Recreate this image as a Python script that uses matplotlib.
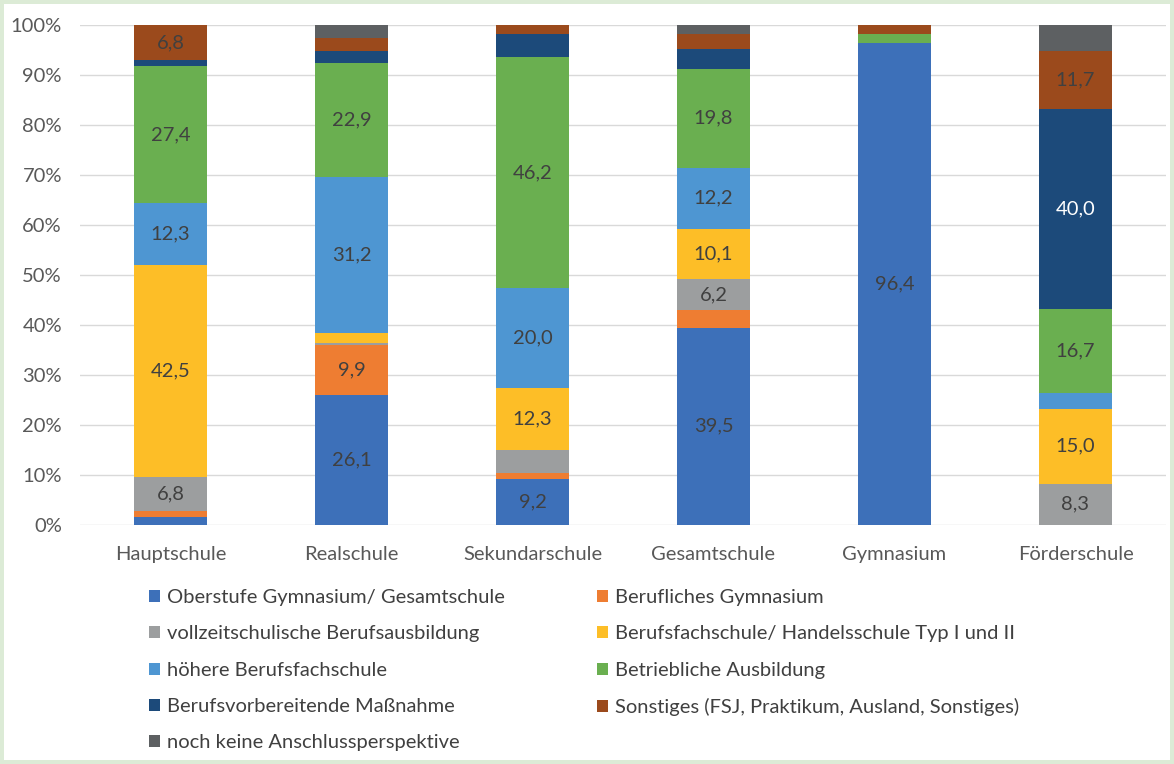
import matplotlib.pyplot as plt
import numpy as np
from matplotlib.patches import Rectangle, Patch

schools = ['Hauptschule', 'Realschule', 'Sekundarschule', 'Gesamtschule', 'Gymnasium', 'Förderschule']

categories = [
    'Oberstufe Gymnasium/ Gesamtschule',
    'Berufliches Gymnasium',
    'vollzeitschulische Berufsausbildung',
    'Berufsfachschule/ Handelsschule Typ I und II',
    'höhere Berufsfachschule',
    'Betriebliche Ausbildung',
    'Berufsvorbereitende Maßnahme',
    'Sonstiges (FSJ, Praktikum, Ausland, Sonstiges)',
    'noch keine Anschlussperspektive',
]

# one list per category, values per school (percent)
oberstufe = [1.7, 26.1, 9.2, 39.5, 96.4, 0.0]
beruf_gym = [1.1, 9.9, 1.3, 3.5, 0.0, 0.0]
vollzeit = [6.8, 0.5, 4.6, 6.2, 0.0, 8.3]
berufsfach = [42.5, 1.9, 12.3, 10.1, 0.0, 15.0]
hoehere = [12.3, 31.2, 20.0, 12.2, 0.0, 3.2]
betrieblich = [27.4, 22.9, 46.2, 19.8, 1.8, 16.7]
vorbereitend = [1.3, 2.3, 4.7, 3.9, 0.0, 40.0]
sonstiges = [6.8, 2.7, 1.7, 3.0, 1.8, 11.7]
keine = [0.0, 2.6, 0.0, 1.8, 0.0, 5.1]

series = [oberstufe, beruf_gym, vollzeit, berufsfach, hoehere,
          betrieblich, vorbereitend, sonstiges, keine]

colors = ['#3d70b9', '#ee7d32', '#9c9e9f', '#fdbe27', '#4e96d2',
          '#6aaf50', '#1c4a7a', '#9b4a1c', '#5d6062']
label_colors = ['#404040'] * 6 + ['white', '#404040', '#404040']

plt.rcParams['font.family'] = ['Lato', 'DejaVu Sans']

fig = plt.figure(figsize=(11.74, 7.64), dpi=100)
fig.patch.set_facecolor('#dcebd6')
fig.patches.append(Rectangle((4 / 1174, 4 / 764), 1 - 8 / 1174, 1 - 8 / 764,
                             transform=fig.transFigure, facecolor='white',
                             edgecolor='none', zorder=-5))

ax = fig.add_axes([80 / 1174, 239 / 764, 1086 / 1174, 500 / 764])
ax.set_facecolor('none')

x = np.arange(len(schools))
bottom = np.zeros(len(schools))
handles = []
for vals, col, lcol, name in zip(series, colors, label_colors, categories):
    vals = np.array(vals)
    ax.bar(x, vals / 100, 0.4, bottom=bottom / 100, color=col, zorder=2)
    for xi, v, b in zip(x, vals, bottom):
        if v >= 6:
            ax.text(xi, (b + v / 2) / 100, f'{v:.1f}'.replace('.', ','),
                    ha='center', va='center', fontsize=14.5, color=lcol, zorder=3)
    bottom += vals
    handles.append(Patch(facecolor=col, label=name))

ax.set_xlim(-0.5, 5.5)
ax.set_ylim(0, 1)
ax.set_yticks(np.arange(0, 1.01, 0.1))
ax.set_yticklabels([f'{int(round(t * 100))}%' for t in np.arange(0, 1.01, 0.1)])
ax.set_xticks(x)
ax.set_xticklabels(schools)
ax.tick_params(axis='both', length=0, labelsize=14.5, colors='#595959')
ax.tick_params(axis='x', pad=15)
ax.tick_params(axis='y', pad=13)
ax.grid(axis='y', color='#d9d9d9', linewidth=1, zorder=0)
for s in ax.spines.values():
    s.set_visible(False)

# row-major legend: matplotlib fills columns first
order = [0, 2, 4, 6, 8, 1, 3, 5, 7]
leg = fig.legend([handles[i] for i in order], [categories[i] for i in order],
                 ncol=2, loc='upper left', bbox_to_anchor=(131 / 1174, 1 - 571 / 764),
                 frameon=False, fontsize=14.5, handlelength=0.55, handleheight=0.55,
                 handletextpad=0.35, labelspacing=0.96, columnspacing=4.55,
                 labelcolor='#404040')

fig.savefig('out.png', dpi=100, facecolor=fig.get_facecolor())
